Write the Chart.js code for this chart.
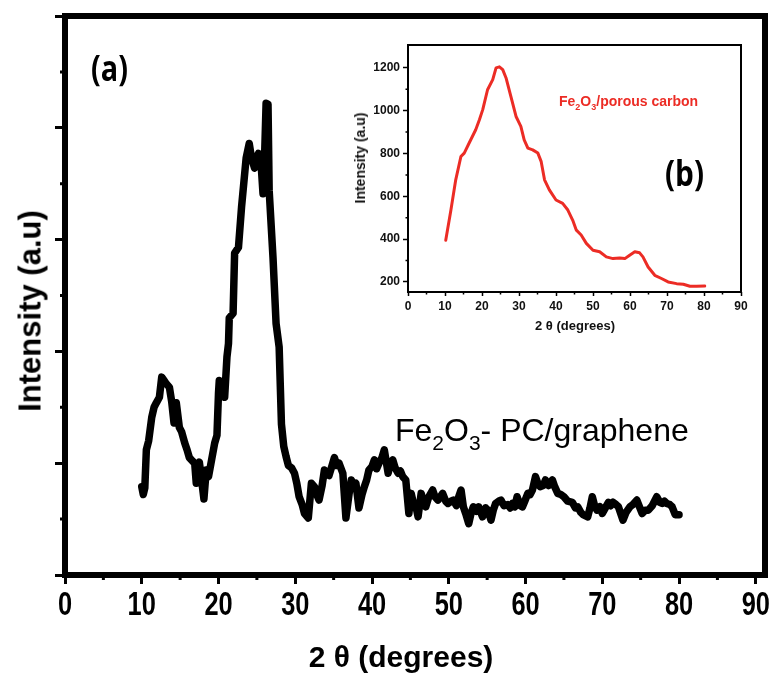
<!DOCTYPE html>
<html>
<head>
<meta charset="utf-8">
<script src="https://cdn.jsdelivr.net/npm/chart.js@4.4.1/dist/chart.umd.min.js"></script>
<style>
  html, body { margin: 0; padding: 0; background: #fff; }
  #wrap { position: relative; width: 770px; height: 673px; overflow: hidden; }
  #mainChart { position: absolute; left: 0; top: 0; }
  #insetChart { position: absolute; left: 340px; top: 30px; }
  .note { position: absolute; white-space: nowrap; line-height: 1; color: #000; transform-origin: 0 0; }
  .axisTitle { position: absolute; white-space: nowrap; line-height: 1; font-family: 'Liberation Sans', Arial, sans-serif; font-weight: bold; }
  .panel { font-family: 'Open Sans', sans-serif; font-weight: bold; }
  #labelA { left: 91px; top: 50px; font-size: 36px; transform: scaleX(0.8); }
  #labelB { left: 665px; top: 155px; font-size: 35px; transform: scaleX(0.85); }
  #sampleMain { left: 395px; top: 414px; font-family: 'Liberation Sans', Arial, sans-serif; font-size: 32px; }
  #sampleMain sub { font-size: 21px; vertical-align: -9px; line-height: 0; }
  #sampleInset { left: 559px; top: 94px; color: #ec2c25; font-family: 'Liberation Sans', Arial, sans-serif; font-weight: bold; font-size: 14px; }
  #sampleInset sub { font-size: 9px; vertical-align: -4px; line-height: 0; }
  #xTitle { left: 401px; top: 657px; font-size: 30px; color: #000; transform: translate(-50%, -50%); }
  #yTitle { left: 30px; top: 311px; font-size: 31px; color: #000; transform: translate(-50%, -50%) rotate(-90deg); }
  #insetXTitle { left: 575px; top: 325px; font-size: 13px; color: #111; transform: translate(-50%, -50%); }
  #insetYTitle { left: 360px; top: 158px; font-size: 14px; color: #111; transform: translate(-50%, -50%) rotate(-90deg); }
</style>
</head>
<body>
<div id="wrap">
  <canvas id="mainChart" width="770" height="673"></canvas>
  <canvas id="insetChart" width="420" height="310"></canvas>
  <div class="axisTitle" id="xTitle">2 θ (degrees)</div>
  <div class="axisTitle" id="yTitle">Intensity (a.u)</div>
  <div class="axisTitle" id="insetXTitle">2 θ (degrees)</div>
  <div class="axisTitle" id="insetYTitle">Intensity (a.u)</div>
  <div class="note panel" id="labelA">(a)</div>
  <div class="note panel" id="labelB">(b)</div>
  <div class="note" id="sampleMain">Fe<sub>2</sub>O<sub>3</sub>- PC/graphene</div>
  <div class="note" id="sampleInset">Fe<sub>2</sub>O<sub>3</sub>/porous carbon</div>
</div>
<script>
// Fe2O3-PC/graphene pattern (arbitrary intensity units)
const pcTheta = [
  10.0, 10.2, 10.4, 10.6, 10.9, 11.3, 11.6, 11.9, 12.3, 12.6, 12.9, 13.2, 13.6, 13.9, 14.2, 14.5,
  14.9, 15.2, 15.6, 15.9, 16.2, 16.6, 16.9, 17.1, 17.3, 17.5, 17.8, 18.1, 18.4, 18.7, 19.1, 19.5,
  19.8, 20.0, 20.1, 20.5, 20.8, 21.1, 21.3, 21.4, 21.9, 22.1, 22.6, 23.0, 23.6, 24.0, 24.3, 24.7,
  25.0, 25.2, 25.6, 25.8, 26.0, 26.2, 26.45, 26.6, 27.1, 27.5, 27.9, 28.2, 28.5, 28.8, 29.1, 29.5,
  29.9, 30.2, 30.5, 30.9, 31.2, 31.7, 32.1, 32.5, 32.8, 33.1, 33.5, 33.8, 34.1, 34.4, 34.8, 35.1,
  35.4, 35.7, 36.2, 36.6, 37.0, 37.3, 37.6, 37.9, 38.3, 38.7, 39.0, 39.3, 39.6, 40.0, 40.3, 40.6,
  40.9, 41.3, 41.6, 42.1, 42.4, 42.7, 43.0, 43.4, 43.7, 44.0, 44.4, 44.8, 45.1, 45.5, 45.7, 46.0,
  46.4, 46.7, 47.0, 47.4, 47.9, 48.2, 48.6, 49.2, 49.6, 49.9, 50.3, 50.6, 51.0, 51.3, 51.6, 51.9,
  52.2, 52.6, 52.9, 53.2, 53.6, 53.9, 54.4, 54.8, 55.1, 55.5, 55.8, 56.1, 56.5, 56.8, 57.2, 57.7,
  58.0, 58.3, 58.6, 58.9, 59.3, 59.6, 59.9, 60.3, 60.6, 60.9, 61.3, 61.6, 61.9, 62.3, 62.6, 63.0,
  63.5, 63.8, 64.2, 64.6, 65.0, 65.5, 66.1, 66.5, 66.8, 67.2, 67.5, 68.1, 68.4, 68.7, 69.0, 69.3,
  69.7, 70.0, 70.4, 70.8, 71.1, 71.4, 71.8, 72.1, 72.4, 72.7, 73.1, 73.6, 74.0, 74.5, 74.9, 75.2,
  75.6, 76.0, 76.5, 77.1, 77.5, 77.8, 78.1, 78.4, 78.8, 79.1, 79.5, 80.0
];
const pcIntensity = [
  0.79, 0.72, 0.78, 1.12, 1.20, 1.41, 1.50, 1.54, 1.59, 1.77, 1.74, 1.71, 1.68, 1.55, 1.36, 1.54,
  1.32, 1.28, 1.18, 1.12, 1.05, 1.02, 1.00, 0.82, 0.98, 1.01, 0.85, 0.68, 0.94, 0.88, 1.03, 1.18,
  1.25, 1.63, 1.74, 1.70, 1.59, 1.95, 2.07, 2.30, 2.34, 2.88, 2.93, 3.29, 3.73, 3.86, 3.73, 3.64,
  3.74, 3.77, 3.62, 3.41, 3.73, 4.22, 4.21, 3.44, 2.84, 2.25, 2.04, 1.35, 1.15, 1.06, 0.98, 0.96,
  0.91, 0.82, 0.70, 0.63, 0.55, 0.51, 0.82, 0.79, 0.72, 0.67, 0.80, 0.94, 0.90, 0.89, 0.98, 1.05,
  0.98, 1.00, 0.91, 0.51, 0.72, 0.85, 0.80, 0.82, 0.60, 0.72, 0.79, 0.85, 0.94, 0.97, 1.03, 0.95,
  1.00, 1.05, 1.12, 0.91, 1.00, 1.03, 0.96, 0.91, 0.93, 0.88, 0.85, 0.55, 0.73, 0.61, 0.62, 0.52,
  0.73, 0.66, 0.61, 0.70, 0.76, 0.70, 0.67, 0.73, 0.66, 0.64, 0.66, 0.67, 0.62, 0.70, 0.76, 0.61,
  0.55, 0.46, 0.55, 0.61, 0.57, 0.61, 0.52, 0.60, 0.58, 0.49, 0.58, 0.64, 0.66, 0.67, 0.62, 0.63,
  0.60, 0.64, 0.61, 0.70, 0.62, 0.61, 0.66, 0.73, 0.72, 0.76, 0.88, 0.82, 0.79, 0.80, 0.85, 0.80,
  0.85, 0.79, 0.73, 0.72, 0.70, 0.66, 0.65, 0.60, 0.61, 0.56, 0.54, 0.52, 0.60, 0.70, 0.62, 0.58,
  0.61, 0.55, 0.60, 0.65, 0.62, 0.65, 0.63, 0.61, 0.55, 0.49, 0.56, 0.61, 0.63, 0.67, 0.60, 0.55,
  0.58, 0.58, 0.62, 0.70, 0.65, 0.64, 0.66, 0.64, 0.63, 0.61, 0.54, 0.54
];

// Fe2O3/porous carbon pattern (inset)
const carbonTheta = [
  10.2, 11.6, 12.9, 14.3, 15.2, 16.5, 18.3, 19.3, 20.2, 21.5, 22.9, 23.8, 24.7, 25.6, 26.5, 27.8,
  29.2, 30.5, 31.4, 32.4, 33.7, 35.1, 36.0, 36.9, 38.2, 40.0, 41.8, 43.2, 44.5, 45.5, 46.8, 48.2,
  50.0, 51.8, 53.6, 55.4, 57.2, 58.6, 59.9, 61.3, 62.6, 63.5, 64.9, 66.7, 68.5, 70.3, 72.6, 74.4,
  76.2, 78.0, 80.2
];
const carbonIntensity = [
  395, 536, 677, 786, 802, 848, 911, 958, 1005, 1098, 1145, 1200, 1205, 1192, 1153, 1067,
  973, 927, 864, 825, 817, 802, 762, 677, 630, 583, 567, 536, 489, 442, 419, 380,
  348, 341, 317, 309, 312, 309, 325, 341, 336, 317, 270, 231, 216, 200, 192, 189,
  180, 180, 181
];

// tick positions
const mainXTicks = [0, 10, 20, 30, 40, 50, 60, 70, 80, 90];
const mainXMinor = [5, 15, 25, 35, 45, 55, 65, 75, 85];
const mainYTicks = [0, 1, 2, 3, 4, 5];
const mainYMinor = [0.5, 1.5, 2.5, 3.5, 4.5];
const insetXTicks = [0, 10, 20, 30, 40, 50, 60, 70, 80, 90];
const insetXMinor = [5, 15, 25, 35, 45, 55, 65, 75, 85];
const insetYTicks = [200, 400, 600, 800, 1000, 1200];
const insetYMinor = [300, 500, 700, 900, 1100];

const sans = "'Liberation Sans', Arial, sans-serif";

// box frame + short minor ticks
const framePlugin = {
  id: 'frame',
  afterDraw(chart, args, opts) {
    const { ctx, chartArea: a, scales: { x, y } } = chart;
    ctx.save();
    ctx.strokeStyle = '#000';
    ctx.lineWidth = opts.tickWidth;
    ctx.beginPath();
    opts.minorX.forEach(v => {
      const px = x.getPixelForValue(v);
      ctx.moveTo(px, a.bottom);
      ctx.lineTo(px, a.bottom + opts.minorLength);
    });
    opts.minorY.forEach(v => {
      const py = y.getPixelForValue(v);
      ctx.moveTo(a.left, py);
      ctx.lineTo(a.left - opts.minorLength, py);
    });
    ctx.stroke();
    ctx.lineWidth = opts.width;
    ctx.strokeRect(a.left, a.top, a.right - a.left, a.bottom - a.top);
    ctx.restore();
  }
};

// narrow bottom tick labels (horizontally squeezed bold digits)
const narrowTicks = {
  id: 'narrowTicks',
  afterDraw(chart, args, opts) {
    const { ctx, chartArea: a, scales: { x } } = chart;
    ctx.save();
    ctx.fillStyle = '#000';
    ctx.font = opts.font;
    ctx.textAlign = 'center';
    ctx.textBaseline = 'middle';
    x.ticks.forEach(t => {
      ctx.save();
      ctx.translate(x.getPixelForValue(t.value), a.bottom + opts.offset);
      ctx.scale(opts.scaleX, 1);
      ctx.fillText(String(t.value), 0, 0);
      ctx.restore();
    });
    ctx.restore();
  }
};

const toPoints = (xs, ys) => xs.map((t, i) => ({ x: t, y: ys[i] }));

new Chart(document.getElementById('mainChart'), {
  type: 'line',
  data: {
    datasets: [{
      data: toPoints(pcTheta, pcIntensity),
      borderColor: '#000',
      borderWidth: 7.5,
      borderJoinStyle: 'round',
      borderCapStyle: 'round',
      pointRadius: 0,
      tension: 0,
      fill: false
    }]
  },
  options: {
    responsive: false,
    animation: false,
    layout: { padding: { top: 16, right: 5, left: 0, bottom: 0 } },
    plugins: {
      legend: { display: false },
      tooltip: { enabled: false },
      frame: { width: 6, tickWidth: 3, minorLength: 5, minorX: mainXMinor, minorY: mainYMinor },
      narrowTicks: { font: "bold 33px " + sans, offset: 31, scaleX: 0.77 }
    },
    scales: {
      x: {
        type: 'linear',
        min: 0,
        max: 91.2,
        afterBuildTicks: s => { s.ticks = mainXTicks.map(v => ({ value: v })); },
        afterFit: s => { s.height = 98; },
        grid: { drawOnChartArea: false, tickLength: 9, tickWidth: 3, tickColor: '#000' },
        border: { display: false },
        ticks: { display: false }
      },
      y: {
        type: 'linear',
        min: 0,
        max: 5,
        afterBuildTicks: s => { s.ticks = mainYTicks.map(v => ({ value: v })); },
        afterFit: s => { s.width = 65; },
        grid: { drawOnChartArea: false, tickLength: 10, tickWidth: 3, tickColor: '#000' },
        border: { display: false },
        ticks: { display: false }
      }
    }
  },
  plugins: [framePlugin, narrowTicks]
});

new Chart(document.getElementById('insetChart'), {
  type: 'line',
  data: {
    datasets: [{
      data: toPoints(carbonTheta, carbonIntensity),
      borderColor: '#ec2c25',
      borderWidth: 3,
      borderJoinStyle: 'round',
      borderCapStyle: 'round',
      pointRadius: 0,
      tension: 0,
      fill: false
    }]
  },
  options: {
    responsive: false,
    animation: false,
    layout: { padding: { top: 15, right: 19, left: 0, bottom: 0 } },
    plugins: {
      legend: { display: false },
      tooltip: { enabled: false },
      frame: { width: 2, tickWidth: 1.5, minorLength: 2.5, minorX: insetXMinor, minorY: insetYMinor }
    },
    scales: {
      x: {
        type: 'linear',
        min: 0,
        max: 90,
        afterBuildTicks: s => { s.ticks = insetXTicks.map(v => ({ value: v })); },
        afterFit: s => { s.height = 48; },
        grid: { drawOnChartArea: false, tickLength: 4, tickWidth: 1.5, tickColor: '#000' },
        border: { display: false },
        ticks: {
          color: '#111', font: { family: sans, size: 12, weight: 'bold' }, padding: 3,
          maxRotation: 0, autoSkip: false, callback: v => String(v)
        }
      },
      y: {
        type: 'linear',
        min: 153,
        max: 1307,
        afterBuildTicks: s => { s.ticks = insetYTicks.map(v => ({ value: v })); },
        afterFit: s => { s.width = 68; },
        grid: { drawOnChartArea: false, tickLength: 5, tickWidth: 1.5, tickColor: '#000' },
        border: { display: false },
        ticks: { color: '#111', font: { family: sans, size: 12, weight: 'bold' }, padding: 3, callback: v => String(v) }
      }
    }
  },
  plugins: [framePlugin]
});
</script>
</body>
</html>
